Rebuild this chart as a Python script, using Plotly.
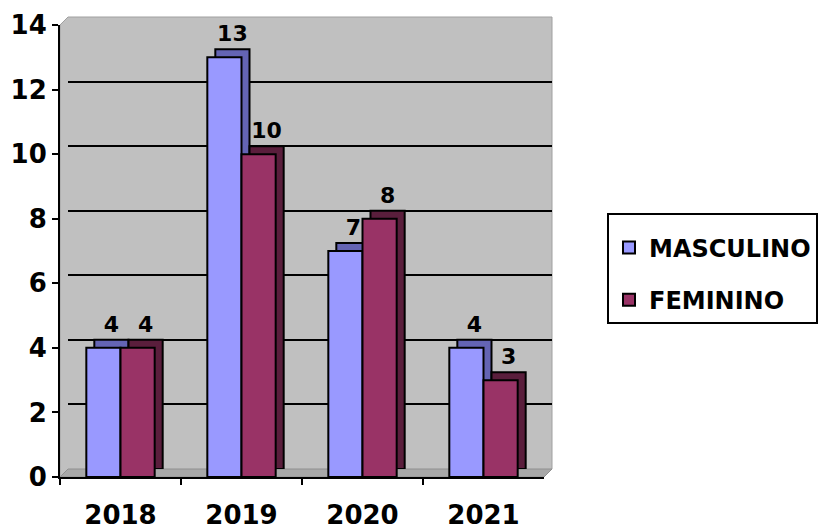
import plotly.graph_objects as go

years = ["2018", "2019", "2020", "2021"]
masculino = [4, 13, 7, 4]
feminino = [4, 10, 8, 3]
y_ticks = [0, 2, 4, 6, 8, 10, 12, 14]

W, H = 818, 531
FONT = "DejaVu Sans"

# front (bars) plot area in pixels
x0, x1 = 60, 544
yb, yt = 477, 25
depth = 8

def fx(px):
    return px / W

def fy(py):
    return (H - py) / H

fig = go.Figure()

# back copies (give a 3D depth look) on the back-wall subplot
fig.add_trace(go.Bar(x=years, y=masculino, xaxis="x", yaxis="y", showlegend=False,
                     marker=dict(color="#6464b4", line=dict(color="black", width=2)),
                     text=[str(v) for v in masculino], textposition="outside",
                     textfont=dict(family=FONT, size=22, color="black", weight="bold"),
                     cliponaxis=False, hoverinfo="skip"))
fig.add_trace(go.Bar(x=years, y=feminino, xaxis="x", yaxis="y", showlegend=False,
                     marker=dict(color="#5a1e3c", line=dict(color="black", width=2)),
                     text=[str(v) for v in feminino], textposition="outside",
                     textfont=dict(family=FONT, size=22, color="black", weight="bold"),
                     cliponaxis=False, hoverinfo="skip"))

# front bars
fig.add_trace(go.Bar(x=years, y=masculino, xaxis="x2", yaxis="y2", name="MASCULINO",
                     legendgroup="m",
                     marker=dict(color="#9999FF", line=dict(color="black", width=2)),
                     hoverinfo="skip"))
fig.add_trace(go.Bar(x=years, y=feminino, xaxis="x2", yaxis="y2", name="FEMININO",
                     legendgroup="f",
                     marker=dict(color="#993366", line=dict(color="black", width=2)),
                     hoverinfo="skip"))

# gray 3D box (side wall + back wall + floor) as background panel
def P(px, py):
    return f"{fx(px):.5f},{fy(py):.5f}"

box_path = ("M " + P(x0, yb) + " L " + P(x0, yt) + " L " + P(x0 + depth, yt - depth)
            + " L " + P(x1 + depth, yt - depth) + " L " + P(x1 + depth, yb - depth)
            + " L " + P(x1, yb) + " Z")
floor_path = ("M " + P(x0, yb) + " L " + P(x0 + depth, yb - depth)
              + " L " + P(x1 + depth, yb - depth) + " L " + P(x1, yb) + " Z")

fig.update_layout(
    shapes=[
        dict(type="path", xref="paper", yref="paper", path=box_path,
             fillcolor="#c0c0c0", line=dict(color="#a0a0a0", width=1), layer="below"),
        dict(type="path", xref="paper", yref="paper", path=floor_path,
             fillcolor="#a8a8a8", line=dict(color="#909090", width=1), layer="below"),
    ],
    width=W, height=H,
    margin=dict(l=0, r=0, t=0, b=0, autoexpand=False),
    paper_bgcolor="white",
    plot_bgcolor="rgba(0,0,0,0)",
    barmode="group",
    bargap=0.435,
    bargroupgap=0,
    showlegend=True,
    legend=dict(x=fx(607), y=fy(213), xanchor="left", yanchor="top",
                bgcolor="white", bordercolor="black", borderwidth=2,
                font=dict(family=FONT, size=24, color="black", weight="bold"),
                title=dict(text=" ", font=dict(size=8)),
                traceorder="grouped", tracegroupgap=18),
    # back wall axes
    xaxis=dict(domain=[fx(x0 + depth), fx(x1 + depth)], range=[-0.5, 3.5],
               showticklabels=False, showgrid=False, zeroline=False, ticks="",
               showline=False, anchor="y", fixedrange=True, automargin=False),
    yaxis=dict(domain=[fy(yb - depth), fy(yt - depth)], range=[0, 14],
               tickvals=y_ticks, showticklabels=False, showgrid=True,
               gridcolor="black", gridwidth=2, zeroline=False, ticks="",
               showline=False, anchor="x", fixedrange=True, automargin=False),
    # front axes
    xaxis2=dict(domain=[fx(x0), fx(x1)], range=[-0.5, 3.5], anchor="y2",
                showgrid=False, zeroline=False, showline=True, linecolor="black",
                linewidth=2, ticks="outside", tickson="boundaries", ticklen=6,
                tickwidth=2, tickcolor="black", ticklabelstandoff=14,
                tickfont=dict(family=FONT, size=26, color="black", weight="bold"),
                fixedrange=True, automargin=False),
    yaxis2=dict(domain=[fy(yb), fy(yt)], range=[0, 14], anchor="x2",
                tickvals=y_ticks, showgrid=False, zeroline=False, showline=True,
                linecolor="black", linewidth=2, ticks="outside", ticklen=6,
                tickwidth=2, tickcolor="black",
                tickfont=dict(family=FONT, size=26, color="black", weight="bold"),
                fixedrange=True, automargin=False),
)

fig.write_html("out.html")
